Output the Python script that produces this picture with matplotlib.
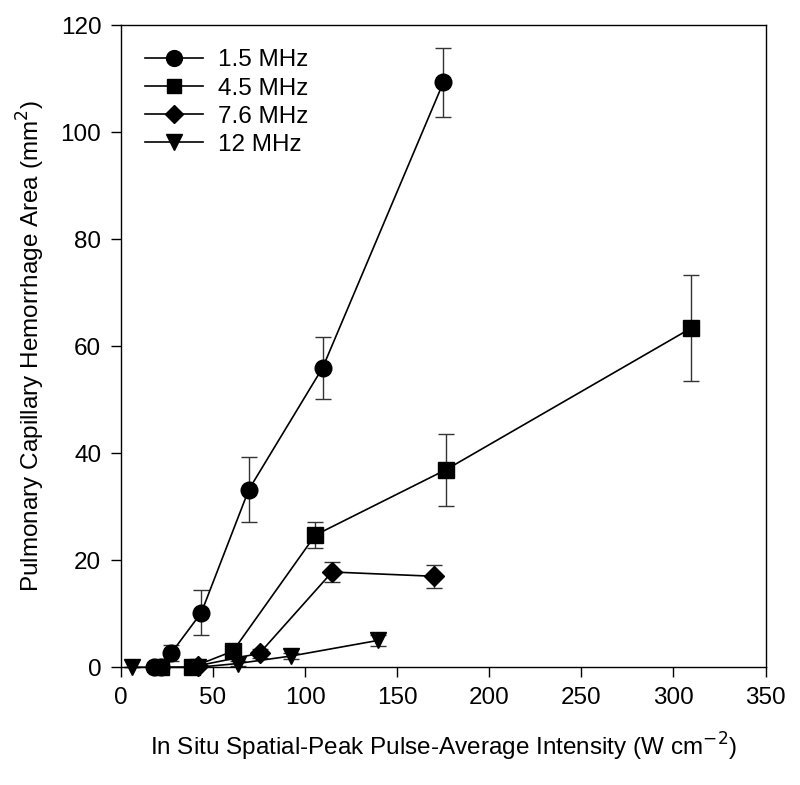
import matplotlib
matplotlib.use('Agg')
import matplotlib.pyplot as plt

plt.rcParams['font.family'] = ['Liberation Sans', 'DejaVu Sans']

# 1.5 MHz
x_15 = [18, 22, 27.5, 43.7, 69.5, 109.6, 175.1]
y_15 = [0, 0, 2.7, 10.2, 33.2, 56.0, 109.3]
e_15 = [0, 0, 1.5, 4.2, 6.0, 5.8, 6.4]

# 4.5 MHz
x_45 = [22, 38.5, 60.8, 105.6, 176.4, 309.7]
y_45 = [0, 0, 3.0, 24.7, 36.9, 63.4]
e_45 = [0, 0, 1.0, 2.5, 6.7, 9.9]

# 7.6 MHz
x_76 = [42, 75.3, 114.7, 170]
y_76 = [0.3, 2.6, 17.8, 17.0]
e_76 = [0, 0.8, 1.8, 2.2]

# 12 MHz
x_12 = [6, 42, 63.5, 92.5, 139.4]
y_12 = [0, 0, 0.7, 2.1, 5.0]
e_12 = [0, 0, 0.5, 0.5, 1.0]

series = [
    ('1.5 MHz', x_15, y_15, e_15, 'o', 12),
    ('4.5 MHz', x_45, y_45, e_45, 's', 11),
    ('7.6 MHz', x_76, y_76, e_76, 'D', 10),
    ('12 MHz', x_12, y_12, e_12, 'v', 12),
]

fig = plt.figure(figsize=(8, 7.85), dpi=100)
ax = fig.add_axes([0.151, 0.150, 0.806, 0.818])

for label, xs, ys, es, mk, ms in series:
    # error bars first, then the line + markers on top
    ax.errorbar(xs, ys, yerr=es, fmt='none', ecolor='#333333',
                elinewidth=1.0, capsize=6, capthick=1.0, clip_on=False)
    ax.plot(xs, ys, '-', marker=mk, color='black', ms=ms, lw=1.2,
            label=label, clip_on=False, zorder=3)

ax.set_xlim(0, 350)
ax.set_ylim(0, 120)
ax.set_xticks(range(0, 351, 50))
ax.set_yticks(range(0, 121, 20))
ax.tick_params(direction='out', length=7, width=1, labelsize=17.5, pad=7)
for s in ax.spines.values():
    s.set_linewidth(1.0)

ax.set_xlabel('In Situ Spatial-Peak Pulse-Average Intensity (W cm$^{-2}$)',
              fontsize=17.5, labelpad=16)
ax.set_ylabel('Pulmonary Capillary Hemorrhage Area (mm$^{2}$)',
              fontsize=17.5, labelpad=10)

ax.legend(loc='upper left', frameon=False, fontsize=17.5, handlelength=2.4,
          borderaxespad=0.6, labelspacing=0.25, handletextpad=0.6,
          markerscale=0.95)

fig.savefig('out.png', dpi=100)
